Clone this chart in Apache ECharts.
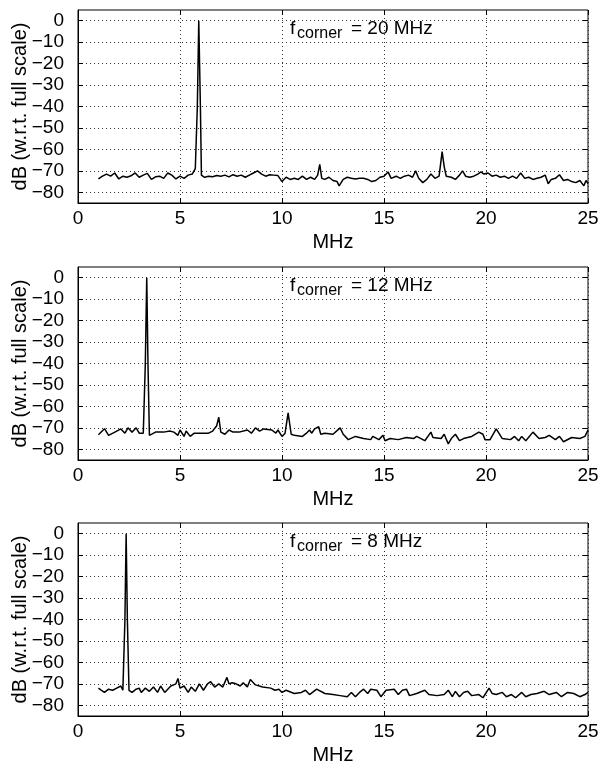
<!DOCTYPE html>
<html><head><meta charset="utf-8">
<script src="https://cdn.jsdelivr.net/npm/echarts@6/dist/echarts.min.js"></script>
<style>html,body{margin:0;padding:0;background:#fff}#c{width:607px;height:768px}</style>
</head><body><div id="c"></div>
<script>
const xTicks = [0, 5, 10, 15, 20, 25];
const yTicks = [0, -10, -20, -30, -40, -50, -60, -70, -80];
const cornerLabels = ['20 MHz', '12 MHz', '8 MHz'];

const f1 = [1.0,1.2,1.4,1.6,1.8,2.0,2.2,2.4,2.6,2.8,3.0,3.2,3.4,3.6,3.8,4.0,4.2,4.4,4.6,4.8,5.0,5.2,5.4,5.6,5.75,5.85,5.92,6.0,6.05,6.2,6.4,6.6,6.8,7.0,7.2,7.4,7.6,7.8,8.0,8.2,8.4,8.6,8.8,9.0,9.2,9.4,9.6,9.8,10.0,10.2,10.4,10.6,10.8,11.0,11.2,11.4,11.6,11.75,11.85,11.95,12.1,12.3,12.5,12.7,12.8,13.0,13.2,13.4,13.6,13.8,14.0,14.2,14.4,14.6,14.8,15.0,15.2,15.35,15.6,15.8,16.0,16.2,16.4,16.55,16.7,16.9,17.1,17.3,17.5,17.7,17.85,17.95,18.05,18.3,18.5,18.7,18.85,19.0,19.2,19.4,19.6,19.75,19.9,20.1,20.3,20.5,20.7,20.9,21.1,21.3,21.5,21.7,21.9,22.1,22.3,22.5,22.7,22.9,23.05,23.2,23.4,23.6,23.8,24.0,24.2,24.4,24.6,24.8,24.9,25.0];
const db1 = [-73.8,-72.5,-71.5,-72.5,-71.0,-73.8,-72.5,-73.0,-72.3,-71.0,-73.0,-72.0,-71.2,-74.0,-72.8,-72.5,-73.5,-71.0,-72.0,-73.8,-72.5,-73.5,-72.0,-71.5,-69,-40,0,-40,-72,-73.0,-72.5,-72.8,-72.2,-72.5,-72.0,-72.8,-71.8,-72.5,-72.0,-73.0,-72.0,-71.0,-70.0,-71.5,-72.5,-71.8,-72.0,-72.2,-75.0,-73.0,-74.0,-73.5,-74.0,-72.5,-74.0,-73.0,-74.0,-72,-67,-73.5,-74.0,-73.0,-74.5,-75,-77,-74,-73.0,-73.5,-73.8,-73.5,-73.5,-74,-75.0,-74.5,-73.0,-72.5,-70.5,-73.5,-72.5,-73.5,-72.5,-72.0,-73,-70,-73.5,-75.5,-74,-71.5,-73.5,-72.5,-61,-68,-72.5,-73.0,-74,-72,-70,-72.5,-73.0,-72.5,-71.5,-70.5,-71.5,-71.0,-72.5,-72.0,-73.0,-72.5,-73.5,-72.5,-73.5,-71.0,-73.5,-73.0,-74.0,-73.5,-73.0,-72.0,-76,-74,-73.5,-71.8,-74.5,-74.0,-75.0,-75.5,-74.5,-77,-74.5,-76];

const f2 = [1.0,1.3,1.5,1.9,2.1,2.3,2.45,2.65,2.85,3.0,3.2,3.3,3.37,3.43,3.5,3.8,4.2,4.5,4.7,4.9,5.0,5.2,5.3,5.5,5.7,6.0,6.4,6.6,6.8,6.9,7.0,7.2,7.4,7.6,7.9,8.3,8.5,8.7,8.9,9.1,9.5,9.7,9.8,10.0,10.15,10.3,10.45,10.6,11.0,11.2,11.35,11.45,11.6,11.8,11.9,12.1,12.5,12.85,13.0,13.25,13.6,14.0,14.35,14.45,14.75,14.95,15.05,15.3,15.7,16.1,16.45,16.6,17.0,17.3,17.4,17.8,17.95,18.15,18.3,18.5,18.7,18.9,19.3,19.65,19.85,19.95,20.2,20.5,20.8,21.2,21.4,21.6,21.75,21.95,22.3,22.6,22.9,23.1,23.4,23.6,23.8,24.2,24.6,24.85,25.0];
const db2 = [-73.2,-70.4,-73.5,-71.5,-70.5,-72.5,-70,-72,-70,-72.5,-72.5,-40,0,-40,-73.5,-72,-72,-71.5,-72,-73.5,-71,-74,-71.5,-74,-72.5,-72.5,-72.5,-71.5,-69,-65,-72,-73,-71,-72,-72,-71,-72.5,-70,-71.5,-70.5,-71,-72.5,-71,-74,-72.5,-63,-73,-73.5,-74,-72.5,-71,-72.5,-70.5,-69.5,-73,-72.5,-73,-70,-73,-75.5,-74,-75,-75.5,-74,-75.5,-73.5,-76,-75,-75.5,-74.5,-75,-74,-76,-72,-74.5,-75,-73,-77.5,-75,-73,-76,-75,-74,-72,-73,-75.5,-75.5,-70.5,-75,-75.5,-74,-76,-74,-76,-72,-75,-74.5,-73.5,-75.5,-74,-76.5,-74.5,-75,-74,-71];

const f3 = [1.0,1.15,1.3,1.5,1.7,1.9,2.1,2.2,2.3,2.36,2.42,2.5,2.65,2.85,3.0,3.1,3.3,3.5,3.7,3.9,4.05,4.25,4.55,4.8,4.9,5.0,5.2,5.4,5.55,5.75,5.95,6.15,6.35,6.5,6.7,6.9,7.1,7.3,7.4,7.55,7.75,7.95,8.1,8.3,8.45,8.7,9.05,9.45,9.65,9.85,10.0,10.2,10.6,10.95,11.15,11.35,11.7,12.1,12.5,12.85,13.2,13.4,13.6,13.8,14.0,14.2,14.35,14.65,14.85,15.1,15.5,15.7,15.9,16.1,16.25,16.6,17.0,17.2,17.6,17.95,18.15,18.35,18.5,18.7,18.9,19.1,19.3,19.65,19.85,20.15,20.3,20.5,20.8,21.0,21.25,21.45,21.75,21.95,22.2,22.5,22.85,23.1,23.45,23.7,24.0,24.3,24.6,24.85,25.0];
const db3 = [-72,-73,-74,-72.5,-73,-72,-71,-73,-40,0,-40,-73,-74,-72.5,-72,-74,-72,-73.5,-71.5,-74,-71,-74,-71,-70,-67.5,-72,-71,-74,-71.5,-73.5,-70,-73,-70,-69,-71.5,-70,-71.5,-67,-70,-69.5,-70,-71,-69.5,-71.5,-68,-70.5,-71.5,-72,-73,-72.5,-74,-73,-74.5,-74,-73,-75,-72.5,-74.5,-75,-75.5,-76,-74,-76,-74,-72.5,-74.5,-72.5,-73,-76,-73,-72.5,-75,-73,-72.5,-75.5,-74.5,-73,-75,-75.5,-75,-73,-76,-73.5,-76,-74,-73.5,-75.5,-75,-76.5,-72,-74.5,-75,-74,-76,-75,-76.5,-74,-76,-75,-74.5,-73.5,-75,-74,-76,-74,-74.5,-76,-75,-74];

const freqs = [f1, f2, f3];
const dbs = [db1, db2, db3];

const FONT = '"Liberation Sans", Arial, sans-serif';
const tops = [10, 267, 523];
const gridH = 193;
const LEFT = 78, WIDTH = 510;

const grids = [], xAxes = [], yAxes = [], series = [], graphics = [];
const minus = v => (v < 0 ? '\u2212' + Math.abs(v) : String(v));

tops.forEach((top, i) => {
  grids.push({left: LEFT, width: WIDTH, top: top, height: gridH, show: true,
    borderColor: '#000', borderWidth: 1, backgroundColor: 'transparent'});
  const tickStyle = {show: true, inside: true, length: 5, lineStyle: {color: '#000', width: 1}};
  xAxes.push({type: 'value', gridIndex: i, min: 0, max: 25, interval: 5, position: 'bottom',
    axisLine: {show: true, onZero: false, lineStyle: {color: '#000', width: 1}},
    axisTick: tickStyle,
    axisLabel: {color: '#000', fontFamily: FONT, fontSize: 19, margin: 6},
    splitLine: {show: true, lineStyle: {color: '#333', type: [1, 3], width: 1}},
    name: 'MHz', nameLocation: 'middle', nameGap: 29,
    nameTextStyle: {color: '#000', fontFamily: FONT, fontSize: 20}});
  xAxes.push({type: 'value', gridIndex: i, min: 0, max: 25, interval: 5, position: 'top',
    axisLine: {show: false, onZero: false}, axisTick: tickStyle, axisLabel: {show: false}, splitLine: {show: false}});
  yAxes.push({type: 'value', gridIndex: i, min: -85, max: 5, position: 'left',
    axisLine: {show: true, onZero: false, lineStyle: {color: '#000', width: 1}},
    axisTick: Object.assign({customValues: yTicks}, tickStyle),
    axisLabel: {customValues: yTicks, color: '#000', fontFamily: FONT, fontSize: 19,
      margin: 14, formatter: minus},
    splitLine: {show: true, lineStyle: {color: '#333', type: [1, 3], width: 1}},
    name: 'dB (w.r.t. full scale)', nameLocation: 'middle', nameGap: 48, nameRotate: 90,
    nameMoveOverlap: false,
    nameTextStyle: {color: '#000', fontFamily: FONT, fontSize: 20}});
  yAxes.push({type: 'value', gridIndex: i, min: -85, max: 5, position: 'right',
    axisLine: {show: false, onZero: false},
    axisTick: Object.assign({customValues: yTicks}, tickStyle),
    axisLabel: {show: false, customValues: yTicks}, splitLine: {show: false}});
  series.push({type: 'line', xAxisIndex: 2 * i, yAxisIndex: 2 * i, showSymbol: false,
    symbol: 'none', animation: false,
    lineStyle: {color: '#000', width: 1.5},
    data: freqs[i].map((f, k) => [f, dbs[i][k]])});
  const ty = top + 9;
  graphics.push({type: 'text', left: 290, top: ty,
    style: {text: 'f', fontFamily: FONT, fontSize: 19, fill: '#000'}});
  graphics.push({type: 'text', left: 297, top: ty + 7,
    style: {text: 'corner', fontFamily: FONT, fontSize: 16, fill: '#000'}});
  graphics.push({type: 'text', left: 351, top: ty,
    style: {text: '= ' + cornerLabels[i], fontFamily: FONT, fontSize: 19, fill: '#000'}});
});

const chart = echarts.init(document.getElementById('c'), null, {renderer: 'canvas'});
chart.setOption({animation: false, grid: grids, xAxis: xAxes, yAxis: yAxes, series: series, graphic: graphics});
</script></body></html>
